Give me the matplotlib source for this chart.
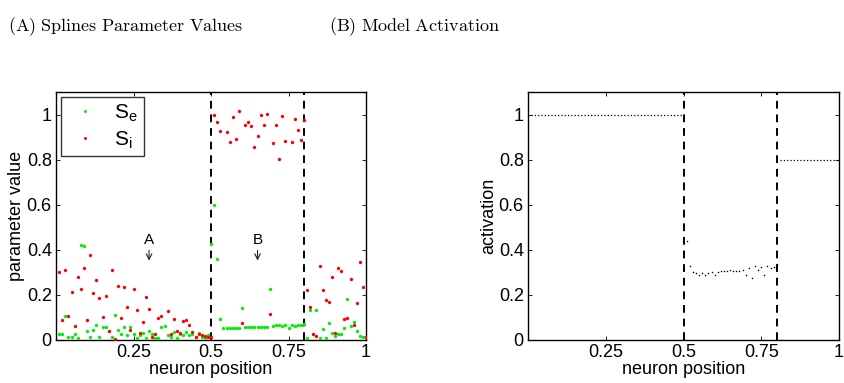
import numpy as np
import matplotlib
matplotlib.use("Agg")
import matplotlib.pyplot as plt

plt.rcParams["font.family"] = ["Liberation Sans", "DejaVu Sans"]
plt.rcParams["mathtext.fontset"] = "cm"

nan = np.nan

# neuron positions 0.01 .. 1.00
position = np.arange(1, 101) / 100.0

s_e = [
    0.028, 0.025, 0.108, 0.012, 0.012, 0.025, 0.007, 0.422, 0.418, 0.040,
    0.015, 0.044, 0.065, 0.012, 0.059, 0.059, 0.040, 0.015, 0.110, 0.044,
    0.028, 0.056, 0.021, 0.059, 0.025, 0.010, 0.020, 0.030, 0.010, 0.042,
    0.025, 0.010, 0.010, 0.056, 0.062, 0.020, 0.015, 0.034, 0.010, 0.025,
    0.020, 0.034, 0.020, 0.025, 0.012, 0.030, 0.012, 0.008, 0.020, 0.425,
    0.600, 0.360, 0.093, 0.053, 0.053, 0.053, 0.053, 0.053, 0.053, 0.144,
    0.056, 0.056, 0.056, 0.056, 0.056, 0.056, 0.056, 0.056, 0.227, 0.062,
    0.065, 0.068, 0.062, 0.065, 0.055, 0.068, 0.064, 0.067, 0.068, 0.070,
    0.007, 0.135, 0.027, 0.132, 0.007, 0.050, 0.010, 0.074, 0.030, 0.018,
    0.027, 0.027, 0.055, 0.180, 0.064, 0.079, 0.040, 0.016, 0.012, 0.012,
]

s_i = [
    0.300, 0.089, 0.310, 0.108, 0.215, 0.061, 0.280, 0.228, 0.318, 0.090,
    0.376, 0.209, 0.267, 0.187, 0.102, 0.196, 0.040, 0.311, 0.004, 0.238,
    0.099, 0.233, 0.147, 0.044, 0.224, 0.133, 0.032, 0.079, 0.190, 0.139,
    0.015, 0.027, 0.099, 0.107, nan, 0.129, 0.027, 0.095, 0.039, 0.030,
    0.084, 0.089, 0.065, 0.034, 0.015, 0.027, 0.022, 0.018, 0.015, 0.015,
    0.996, 0.967, 0.929, nan, 0.923, 0.877, 0.991, 0.892, 1.016, 0.075,
    0.952, 0.969, 0.947, 0.858, 0.904, 0.996, 0.954, 1.003, 0.116, 0.874,
    0.954, 0.804, 0.993, 0.881, nan, 0.877, 0.981, 0.932, 0.886, 0.976,
    0.222, 0.145, 0.025, 0.018, 0.329, 0.221, 0.178, 0.170, 0.281, 0.033,
    0.320, 0.305, 0.093, 0.099, 0.271, 0.067, 0.166, 0.347, 0.234, 0.015,
]

activation = [1.0] * 50 + [
    0.44, 0.33, 0.30, 0.295, 0.29, 0.295, 0.29, 0.298, 0.30, 0.288,
    0.303, 0.305, 0.307, 0.308, 0.31, 0.308, 0.307, 0.307, 0.31, 0.29,
    0.318, 0.273, 0.33, 0.31, 0.325, 0.29, 0.33, 0.32, 0.325, 0.335,
] + [0.8] * 20

boundaries = [0.5, 0.8]
xticks = [0.25, 0.5, 0.75, 1]
xticklabels = ["0.25", "0.5", "0.75", "1"]
yticks = [0, 0.2, 0.4, 0.6, 0.8, 1]
yticklabels = ["0", "0.2", "0.4", "0.6", "0.8", "1"]
markers = [("A", 0.30), ("B", 0.65)]


def style_axis(ax, ylabel):
    ax.set_xlim(0, 1)
    ax.set_ylim(0, 1.1)
    ax.set_xticks(xticks)
    ax.set_xticklabels(xticklabels)
    ax.set_yticks(yticks)
    ax.set_yticklabels(yticklabels)
    ax.tick_params(direction="in", top=True, right=True, length=3,
                   width=0.6, labelsize=13, pad=3)
    for spine in ax.spines.values():
        spine.set_linewidth(1.0)
    ax.set_xlabel("neuron position", fontsize=13, labelpad=0)
    ax.set_ylabel(ylabel, fontsize=13, labelpad=1)
    for b in boundaries:
        ax.axvline(b, color="black", linestyle=(0, (4, 3)), linewidth=1.4, zorder=1)


fig = plt.figure(figsize=(8.44, 3.83), dpi=100)
ax1 = fig.add_axes([0.0664, 0.1123, 0.3673, 0.6475])
ax2 = fig.add_axes([0.6256, 0.1123, 0.3685, 0.6475])

# (A) spline parameters
ax1.plot(position, s_e, "o", color="#00ee00", ms=2.4, mew=0, label=r"S$_\mathregular{e}$", zorder=3)
ax1.plot(position, s_i, "o", color="#ff0000", ms=2.4, mew=0, label=r"S$_\mathregular{i}$", zorder=3)
style_axis(ax1, "parameter value")
leg = ax1.legend(loc="upper left", fontsize=15, frameon=True, fancybox=False,
                 borderaxespad=0.25, handletextpad=0.5, labelspacing=0.25,
                 handlelength=1.8, borderpad=0.25, markerscale=0.9)
leg.get_frame().set_edgecolor("black")
leg.get_frame().set_linewidth(1.0)
for name, x in markers:
    ax1.annotate("", xy=(x, 0.34), xytext=(x, 0.41),
                 arrowprops=dict(arrowstyle="->", color="#222222", lw=0.8))
    ax1.text(x, 0.445, name, ha="center", va="center", fontsize=11)

# (B) model activation
act = np.array(activation)
ax2.plot(position[:50], act[:50], ":", color="black", lw=0.9)
ax2.plot(position[50:80], act[50:80], "o", color="black", ms=1.1, mew=0)
ax2.plot(position[80:], act[80:], ":", color="black", lw=0.9)
style_axis(ax2, "activation")

fig.text(8 / 844, 1 - 27 / 383, r"$\mathrm{(A)\ Splines\ Parameter\ Values}$",
         fontsize=13, ha="left", va="center")
fig.text(329 / 844, 1 - 27 / 383, r"$\mathrm{(B)\ Model\ Activation}$",
         fontsize=13, ha="left", va="center")

fig.savefig("out.png", dpi=100)
